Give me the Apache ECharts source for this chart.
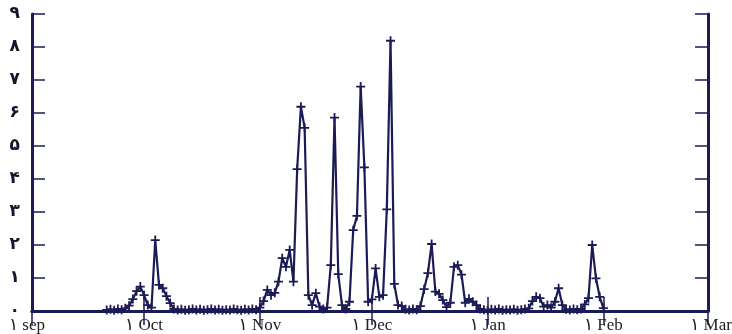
<!DOCTYPE html>
<html>
<head>
<meta charset="utf-8">
<script src="https://cdn.jsdelivr.net/npm/echarts@6/dist/echarts.min.js"></script>
<style>
  html, body { margin: 0; padding: 0; background: #fff; }
  #chart { width: 732px; height: 334px; }
</style>
</head>
<body>
<div id="chart"></div>
<script>
// x axis: one category per day, 1 Sep -> 1 Mar
const monthLabels = ["۱ sep", "۱ Oct", "۱ Nov", "۱ Dec", "۱ Jan", "۱ Feb", "۱ Mar"];
const monthLengths = [30, 31, 30, 31, 31, 28];
const yTickLabels = ["۰", "۱", "۲", "۳", "۴", "۵", "۶", "۷", "۸", "۹"];

// daily values, first one is day 20 after 1 Sep
const firstDay = 20;
const values = [
  0.03, 0.05, 0.02, 0.06, 0.04, 0.08, 0.16, 0.36, 0.6, 0.74,
  0.48, 0.18, 0.1, 2.15, 0.79, 0.69, 0.45, 0.24, 0.06,
  0.03, 0.05, 0.02, 0.04, 0.06, 0.03, 0.05, 0.02, 0.04, 0.06,
  0.03, 0.05, 0.02, 0.04, 0.03, 0.06, 0.04, 0.02, 0.05, 0.03, 0.06,
  0.04, 0.1, 0.3, 0.64, 0.48, 0.55, 0.89, 1.6, 1.34, 1.85,
  0.89, 4.3, 6.19, 5.55, 0.48, 0.18, 0.54, 0.13, 0.06, 0.1,
  1.39, 5.86, 1.12, 0.18, 0.06, 0.28, 2.45, 2.88, 6.8, 4.35,
  0.28, 0.35, 1.29, 0.43, 0.48, 3.08, 8.19, 0.82, 0.18, 0.15,
  0.05, 0.03, 0.06, 0.04, 0.15, 0.66, 1.15, 2.03, 0.59, 0.52,
  0.33, 0.12, 0.25, 1.34, 1.39, 1.1, 0.25, 0.37, 0.28, 0.18,
  0.06, 0.04, 0.02, 0.05, 0.03, 0.06, 0.02, 0.04, 0.03, 0.05,
  0.02, 0.04, 0.06, 0.08, 0.3, 0.43, 0.39, 0.13, 0.18, 0.1,
  0.28, 0.69, 0.18, 0.05, 0.03, 0.06, 0.04, 0.06, 0.2, 0.39,
  2.0, 0.99, 0.43, 0.09
];

const navy = "#1b1b55";
const plusPath = "path://M4,0 H6 V4 H10 V6 H6 V10 H4 V6 H0 V4 H4 Z";

let monthStarts = [0];
monthLengths.forEach(function (n) {
  monthStarts.push(monthStarts[monthStarts.length - 1] + n);
});
let days = [];
for (let i = 0; i <= monthStarts[monthStarts.length - 1]; i++) days.push(String(i));
let seriesData = days.map(function (d, i) {
  let k = i - firstDay;
  return k >= 0 && k < values.length ? values[k] : null;
});
let isMonthStart = function (i) {
  return monthStarts.indexOf(i) >= 0;
};

let myChart = echarts.init(document.getElementById("chart"));
let lineOption = {
  lineStyle: { color: navy, width: 3 }
};
let labelFont = {
  color: "#222",
  fontFamily: "Liberation Serif, DejaVu Sans",
  fontSize: 17
};
let yAxisBase = {
  type: "value",
  min: 0,
  max: 9,
  interval: 1,
  axisLine: { show: true, lineStyle: { color: navy, width: 3 } },
  axisTick: { show: true, inside: true, length: 13, lineStyle: { color: navy, width: 1.5 } },
  splitLine: { show: false }
};
let xAxisBase = {
  type: "category",
  data: days,
  boundaryGap: false,
  axisLine: lineOption,
  axisTick: {
    show: true,
    inside: true,
    length: 14,
    interval: isMonthStart,
    lineStyle: { color: navy, width: 1.5 }
  },
  splitLine: { show: false }
};

myChart.setOption({
  animation: false,
  grid: { left: 32, right: 24, top: 14, bottom: 23, outerBoundsMode: "none", containLabel: false },
  xAxis: [
    Object.assign({}, xAxisBase, {
      position: "bottom",
      axisLabel: Object.assign({}, labelFont, {
        interval: isMonthStart,
        margin: 6,
        formatter: function (v, i) {
          let k = monthStarts.indexOf(i);
          if (k === 0) return "{first|" + monthLabels[k] + "}";
          if (k === monthLabels.length - 1) return "{last|" + monthLabels[k] + "}";
          return monthLabels[k];
        },
        rich: {
          first: Object.assign({}, labelFont, { padding: [0, 10, 0, 0] }),
          last: Object.assign({}, labelFont, { padding: [0, 0, 0, 6] })
        }
      })
    }),
    Object.assign({}, xAxisBase, {
      position: "top",
      axisLabel: { show: false }
    })
  ],
  yAxis: [
    Object.assign({}, yAxisBase, {
      position: "left",
      axisLabel: {
        margin: 12,
        color: "#15152e",
        fontFamily: "DejaVu Sans",
        fontWeight: "bold",
        fontSize: 17,
        formatter: function (v) {
          return yTickLabels[v];
        }
      }
    }),
    Object.assign({}, yAxisBase, {
      position: "right",
      axisLabel: { show: false }
    })
  ],
  series: [
    {
      type: "line",
      data: seriesData,
      xAxisIndex: 0,
      yAxisIndex: 0,
      showAllSymbol: true,
      symbol: plusPath,
      symbolSize: 9,
      connectNulls: false,
      lineStyle: { color: navy, width: 2.2 },
      itemStyle: { color: navy }
    }
  ]
});
</script>
</body>
</html>
